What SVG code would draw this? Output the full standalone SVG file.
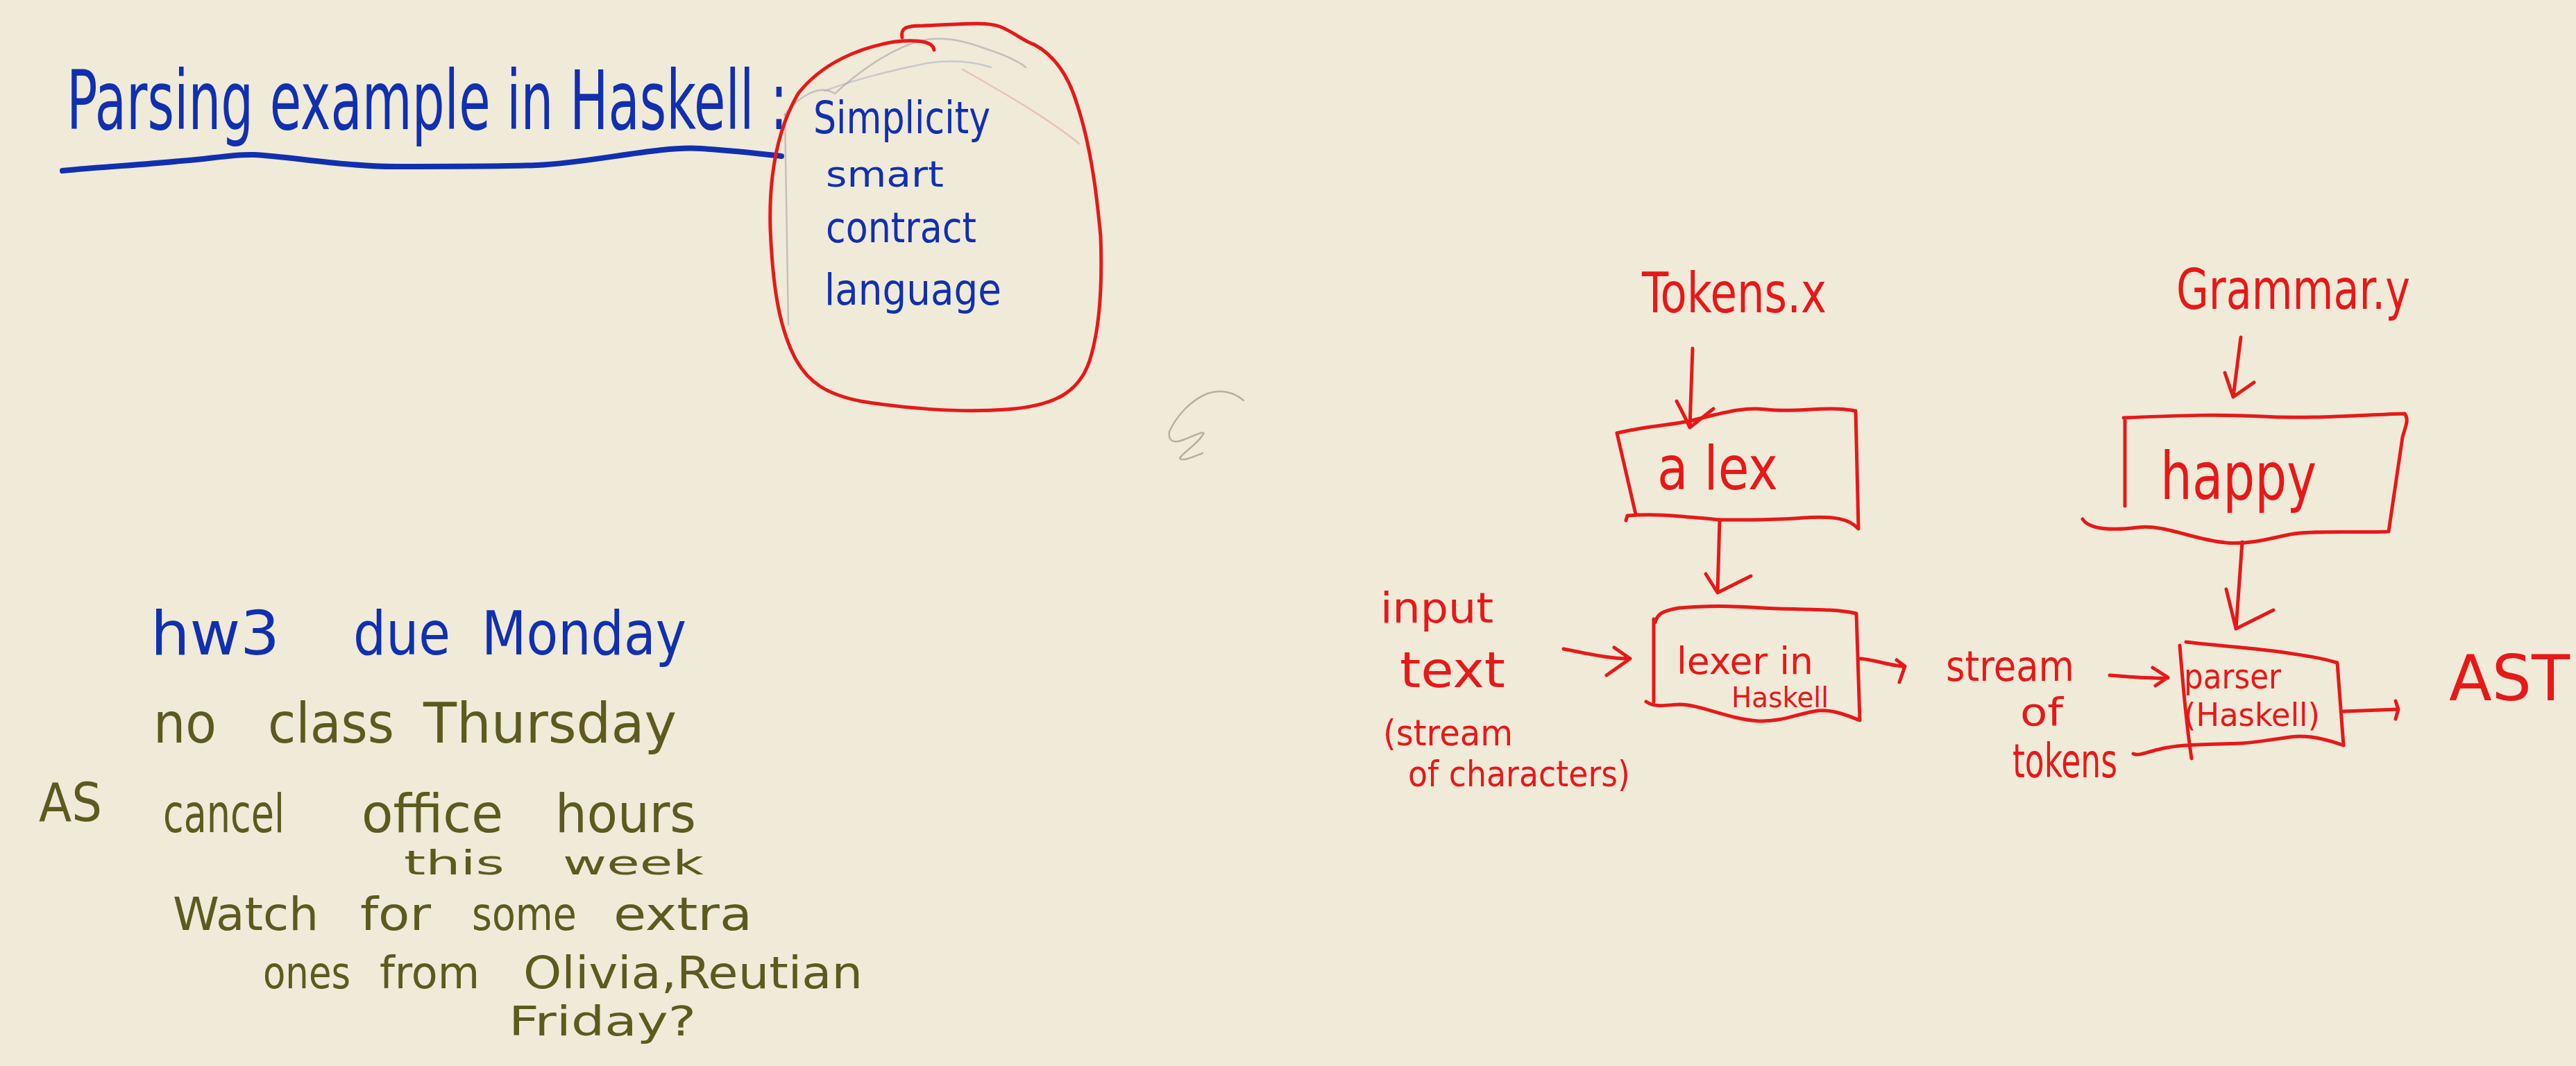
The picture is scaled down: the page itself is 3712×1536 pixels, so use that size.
<svg xmlns="http://www.w3.org/2000/svg" width="3712" height="1536" viewBox="0 0 3712 1536">
<style>
  .bg { fill: #F0EAD9; }
  text { font-family: "Liberation Sans Narrow", "DejaVu Sans Condensed", "Liberation Sans", sans-serif; }
  .blue { fill: #1030B0; }
  .red { fill: #E81818; }
  .olive { fill: #5C5A1E; }
  .redline { fill: none; stroke: #E81818; stroke-width: 5; stroke-linecap: round; stroke-linejoin: round; }
  .blueline { fill: none; stroke: #1030B0; stroke-width: 8; stroke-linecap: round; stroke-linejoin: round; }
  .faint { fill: none; stroke-width: 2.5; stroke-linecap: round; opacity: 0.45; }
</style>
<rect class="bg" x="0" y="0" width="3712" height="1536"/>

<g id="title">
  <text class="blue" x="96" y="186" font-size="84" textLength="1039" lengthAdjust="spacingAndGlyphs" transform="matrix(1 0 0 1.4 0 -74.4)">Parsing example in Haskell :</text>
  <path class="blueline" d="M90 246 C150 240 200 238 260 232 C300 230 330 222 366 223 C420 226 500 240 570 240 C650 240 720 240 774 238 C850 235 950 210 1009 214 C1060 217 1100 222 1126 225"/>
</g>

<g id="goals">
  <path class="faint" stroke="#8A8F9A" d="M1131 165 C1133 260 1134 380 1136 468"/>
  <path class="faint" stroke="#8A8F9A" d="M1131 165 C1150 140 1180 120 1203 135 C1230 110 1280 70 1330 58 C1360 52 1387 58 1420 70 C1450 80 1470 90 1478 97"/>
  <path class="faint" stroke="#9AA0C0" d="M1188 131 C1230 115 1290 100 1336 91 C1370 86 1400 88 1428 97"/>
  <path class="faint" stroke="#E89080" d="M1387 100 C1440 130 1510 170 1555 207"/>
  <path class="redline" d="M1300 54 C1298 42 1302 37 1330 37 C1370 36 1420 30 1440 38 C1460 45 1475 60 1490 64 C1520 80 1540 110 1552 150 C1575 220 1582 300 1586 340 C1589 420 1583 480 1570 520 C1555 565 1520 585 1450 590 C1380 595 1300 588 1240 578 C1190 568 1165 550 1148 520 C1120 470 1113 400 1110 330 C1108 260 1118 190 1150 135 C1185 90 1240 68 1290 60 C1330 56 1345 62 1346 72"/>
  <text class="blue" x="1172" y="192" font-size="64" textLength="255" lengthAdjust="spacingAndGlyphs">Simplicity</text>
  <text class="blue" x="1190" y="269" font-size="52" textLength="170" lengthAdjust="spacingAndGlyphs">smart</text>
  <text class="blue" x="1190" y="349" font-size="60" textLength="217" lengthAdjust="spacingAndGlyphs">contract</text>
  <text class="blue" x="1188" y="439" font-size="62" textLength="255" lengthAdjust="spacingAndGlyphs">language</text>
</g>

<path id="squiggle" fill="none" stroke="#B5B0A0" stroke-width="2.5" stroke-linecap="round" d="M1792 577 C1780 566 1760 560 1740 567 C1715 577 1695 600 1685 622 C1683 635 1690 640 1707 633 C1720 628 1740 618 1733 627 C1725 640 1705 652 1700 660 C1702 666 1720 658 1733 653"/>

<g id="announcements">
  <text class="blue" y="943" font-size="88"><tspan x="217" textLength="186" lengthAdjust="spacingAndGlyphs">hw3</tspan><tspan x="509" textLength="140" lengthAdjust="spacingAndGlyphs">due</tspan><tspan x="694" textLength="295" lengthAdjust="spacingAndGlyphs">Monday</tspan></text>
  <text class="olive" y="1070" font-size="80"><tspan x="221" textLength="91" lengthAdjust="spacingAndGlyphs">no</tspan><tspan x="386" textLength="182" lengthAdjust="spacingAndGlyphs">class</tspan><tspan x="610" textLength="365" lengthAdjust="spacingAndGlyphs">Thursday</tspan></text>
  <text class="olive" x="56" y="1183" font-size="76" textLength="91" lengthAdjust="spacingAndGlyphs">AS</text>
  <text class="olive" y="1199" font-size="76"><tspan x="235" textLength="175" lengthAdjust="spacingAndGlyphs">cancel</tspan><tspan x="521" textLength="204" lengthAdjust="spacingAndGlyphs">office</tspan><tspan x="800" textLength="203" lengthAdjust="spacingAndGlyphs">hours</tspan></text>
  <text class="olive" y="1260" font-size="48"><tspan x="582" textLength="145" lengthAdjust="spacingAndGlyphs">this</tspan><tspan x="811" textLength="203" lengthAdjust="spacingAndGlyphs">week</tspan></text>
  <text class="olive" y="1340" font-size="66"><tspan x="249" textLength="210" lengthAdjust="spacingAndGlyphs">Watch</tspan><tspan x="519" textLength="102" lengthAdjust="spacingAndGlyphs">for</tspan><tspan x="680" textLength="151" lengthAdjust="spacingAndGlyphs">some</tspan><tspan x="884" textLength="200" lengthAdjust="spacingAndGlyphs">extra</tspan></text>
  <text class="olive" y="1424" font-size="64"><tspan x="379" textLength="126" lengthAdjust="spacingAndGlyphs">ones</tspan><tspan x="547" textLength="144" lengthAdjust="spacingAndGlyphs">from</tspan><tspan x="754" textLength="489" lengthAdjust="spacingAndGlyphs">Olivia,Reutian</tspan></text>
  <text class="olive" x="733" y="1492" font-size="58" textLength="270" lengthAdjust="spacingAndGlyphs">Friday?</text>
</g>

<g id="tokens-file">
  <text class="red" x="2366" y="450" font-size="80" textLength="266" lengthAdjust="spacingAndGlyphs">Tokens.x</text>
</g>
<g id="grammar-file">
  <text class="red" x="3136" y="445" font-size="80" textLength="337" lengthAdjust="spacingAndGlyphs">Grammar.y</text>
</g>
<g id="alex">
  <path class="redline" d="M2330 624 C2380 612 2420 612 2445 604 C2480 596 2510 586 2545 590 C2590 595 2630 584 2674 592 L2678 762 C2665 748 2645 743 2600 746 C2550 750 2510 749 2478 749 C2430 745 2390 739 2345 743 L2343 750 M2357 741 L2330 624"/>
  <text class="red" x="2388" y="705" font-size="88" textLength="174" lengthAdjust="spacingAndGlyphs">a lex</text>
</g>
<g id="happy">
  <path class="redline" d="M3060 602 C3150 598 3200 597 3260 600 C3330 604 3400 598 3465 596 C3472 604 3466 615 3462 630 L3442 766 C3400 768 3330 764 3300 770 C3270 776 3240 785 3208 782 C3160 778 3120 755 3080 760 C3040 765 3010 762 3001 748 M3062 605 L3062 729"/>
  <text class="red" x="3113" y="719" font-size="95" textLength="225" lengthAdjust="spacingAndGlyphs">happy</text>
</g>
<g id="lexer">
  <path class="redline" d="M2385 897 C2388 885 2395 880 2420 876 C2460 872 2500 873 2540 876 C2590 879 2640 876 2675 884 L2680 1038 C2660 1030 2640 1022 2620 1024 C2590 1028 2570 1040 2534 1039 C2490 1036 2450 1015 2420 1015 C2400 1016 2385 1020 2372 1011 M2383 892 L2383 1011"/>
  <text class="red" x="2416" y="971" font-size="54" textLength="197" lengthAdjust="spacingAndGlyphs">lexer in</text>
  <text class="red" x="2495" y="1019" font-size="40" textLength="140" lengthAdjust="spacingAndGlyphs">Haskell</text>
</g>
<g id="parser">
  <path class="redline" d="M3150 925 C3190 930 3240 933 3276 938 C3320 944 3345 948 3368 955 L3377 1074 C3360 1068 3330 1058 3300 1062 C3270 1066 3250 1070 3230 1071 C3180 1073 3140 1072 3110 1080 C3095 1083 3082 1090 3074 1086 M3141 930 C3145 980 3150 1040 3158 1093"/>
  <text class="red" x="3147" y="992" font-size="50" textLength="140" lengthAdjust="spacingAndGlyphs">parser</text>
  <text class="red" x="3147" y="1046" font-size="46" textLength="196" lengthAdjust="spacingAndGlyphs">(Haskell)</text>
</g>
<g id="input">
  <text class="red" x="1989" y="897" font-size="60" textLength="163" lengthAdjust="spacingAndGlyphs">input</text>
  <text class="red" x="2017" y="990" font-size="72" textLength="152" lengthAdjust="spacingAndGlyphs">text</text>
  <text class="red" x="1993" y="1074" font-size="52" textLength="187" lengthAdjust="spacingAndGlyphs">(stream</text>
  <text class="red" x="2029" y="1133" font-size="52" textLength="320" lengthAdjust="spacingAndGlyphs">of characters)</text>
</g>
<g id="token-stream">
  <text class="red" x="2804" y="981" font-size="60" textLength="185" lengthAdjust="spacingAndGlyphs">stream</text>
  <text class="red" x="2911" y="1045" font-size="56" textLength="62" lengthAdjust="spacingAndGlyphs">of</text>
  <text class="red" x="2900" y="1120" font-size="68" textLength="151" lengthAdjust="spacingAndGlyphs">tokens</text>
</g>
<g id="ast">
  <text class="red" x="3529" y="1009" font-size="90" textLength="174" lengthAdjust="spacingAndGlyphs">AST</text>
</g>

<g id="connectors">
  <path class="redline" d="M2439 502 L2435 616 M2416 578 C2425 595 2430 605 2435 616 L2469 589"/>
  <path class="redline" d="M2478 749 L2475 854 M2458 827 L2475 854 L2523 830"/>
  <path class="redline" d="M2253 935 C2280 940 2320 950 2349 949 M2326 933 L2349 949 L2315 973"/>
  <path class="redline" d="M2680 949 C2700 950 2725 960 2744 960 M2733 951 L2745 960 L2737 983"/>
  <path class="redline" d="M3040 973 C3070 975 3100 978 3124 977 M3102 962 L3124 976 L3106 988"/>
  <path class="redline" d="M3229 486 L3218 572 M3206 537 L3218 572 L3248 551"/>
  <path class="redline" d="M3231 781 L3222 906 M3208 849 L3222 906 L3276 879"/>
  <path class="redline" d="M3377 1025 L3456 1022 M3452 1010 L3456 1022 L3452 1036"/>
</g>
</svg>
